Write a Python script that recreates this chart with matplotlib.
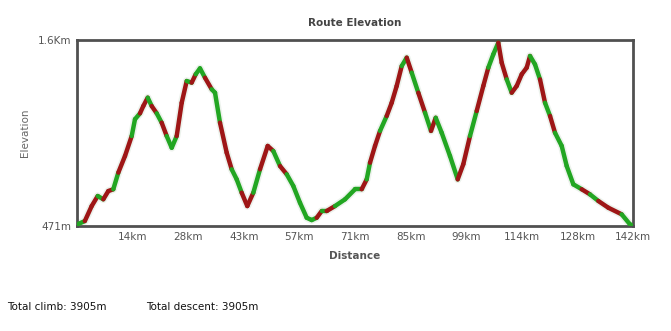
import numpy as np
import matplotlib
matplotlib.use('Agg')
import matplotlib.pyplot as plt
from matplotlib.collections import LineCollection

# profile: distance (km) and elevation (m)
dist_km = [0, 2.0, 3.75, 5.29, 6.72, 7.99, 9.27, 10.55, 12.26, 13.97,
           14.81, 16.09, 16.93, 18.06, 19.08, 20.36, 21.63, 22.91, 24.19, 25.46,
           26.74, 28.02, 29.29, 30.32, 31.41, 32.69, 34.40, 35.25, 36.52, 38.23,
           39.51, 40.79, 42.06, 43.49, 45.03, 46.74, 48.71, 50.14, 51.85, 53.56,
           55.24, 56.95, 58.67, 59.94, 61.22, 62.50, 63.77, 65.89, 68.45, 71.00,
           72.71, 73.99, 74.83, 76.11, 77.39, 79.10, 80.37, 81.65, 82.93, 84.21,
           85.48, 87.17, 88.88, 90.41, 91.61, 93.14, 95.26, 97.23, 98.66, 100.37,
           102.08, 103.77, 105.05, 106.32, 107.60, 108.47, 109.75, 111.02, 112.30, 113.58,
           114.85, 115.70, 116.97, 118.25, 119.53, 120.81, 122.08, 123.79, 125.07, 126.76,
           128.90, 131.02, 133.14, 135.69, 139.10, 141.23, 142.0]
elev_m = [480, 501, 592, 653, 633, 683, 694, 795, 896, 1017,
          1119, 1155, 1199, 1250, 1199, 1155, 1098, 1017, 946, 1017,
          1219, 1351, 1341, 1392, 1428, 1371, 1301, 1280, 1098, 916,
          815, 754, 673, 592, 673, 815, 957, 926, 835, 785,
          714, 612, 521, 507, 521, 562, 562, 592, 633, 694,
          694, 754, 855, 957, 1048, 1139, 1219, 1321, 1442, 1493,
          1402, 1280, 1159, 1048, 1128, 1037, 896, 754, 846, 1017,
          1169, 1321, 1432, 1513, 1584, 1462, 1361, 1280, 1321, 1392,
          1432, 1503, 1452, 1361, 1219, 1139, 1037, 957, 835, 724,
          694, 663, 623, 582, 542, 481, 471]
# colour of each segment, r = red, g = green
seg_colors = ("grrgrrgrrg" "grrgrgrggr" "rgrggrggrr" "ggrrgrrgrg" "ggggrgrggg"
              "rgrrgrrrgr" "grgrgggrrg" "rrggrrgrrr" "rggrgrgggg" "rgrrgg")

tick_km = [14.2, 28.4, 42.6, 56.8, 71.0, 85.2, 99.4, 113.6, 127.8, 142.0]
tick_labels = ['14km', '28km', '43km', '57km', '71km', '85km', '99km', '114km', '128km', '142km']
ymin, ymax = 471, 1600
total_climb = 3905
total_descent = 3905

RED = '#9e1616'
GREEN = '#22a622'
TXT = '#555555'

fig = plt.figure(figsize=(6.71, 3.31), dpi=100)
ax = fig.add_axes([77 / 671, 1 - 226 / 331, 556 / 671, 186 / 331])

pts = np.column_stack([dist_km, elev_m])
segs = np.stack([pts[:-1], pts[1:]], axis=1)
cols = [RED if c == 'r' else GREEN for c in seg_colors]

# soft halo under the line
ax.plot(dist_km, elev_m, color='#99bb99', lw=5.5, alpha=0.18, solid_capstyle='round', zorder=2)
lc = LineCollection(segs, colors=cols, linewidths=3.2, capstyle='round', joinstyle='round', zorder=3)
ax.add_collection(lc)

ax.set_xlim(0, 142)
ax.set_ylim(ymin, ymax)
ax.set_xticks(tick_km)
ax.set_xticklabels(tick_labels)
ax.set_yticks([ymin, ymax])
ax.set_yticklabels(['471m', '1.6Km'])
ax.tick_params(length=0, labelsize=7.5, colors=TXT, pad=4)
for s in ax.spines.values():
    s.set_color('#505050')
    s.set_linewidth(2)

ax.set_title('Route Elevation', fontsize=7.5, fontweight='bold', color='#444444', pad=10)
ax.set_xlabel('Distance', fontsize=7.5, fontweight='bold', color=TXT, labelpad=7)
ax.set_ylabel('Elevation', fontsize=7.5, color='#666666', labelpad=6)

fig.text(7 / 671, 1 - 307 / 331, f'Total climb: {total_climb}m', fontsize=7.5, color='#111111', va='center')
fig.text(146 / 671, 1 - 307 / 331, f'Total descent: {total_descent}m', fontsize=7.5, color='#111111', va='center')

fig.savefig('out.png', dpi=100)
